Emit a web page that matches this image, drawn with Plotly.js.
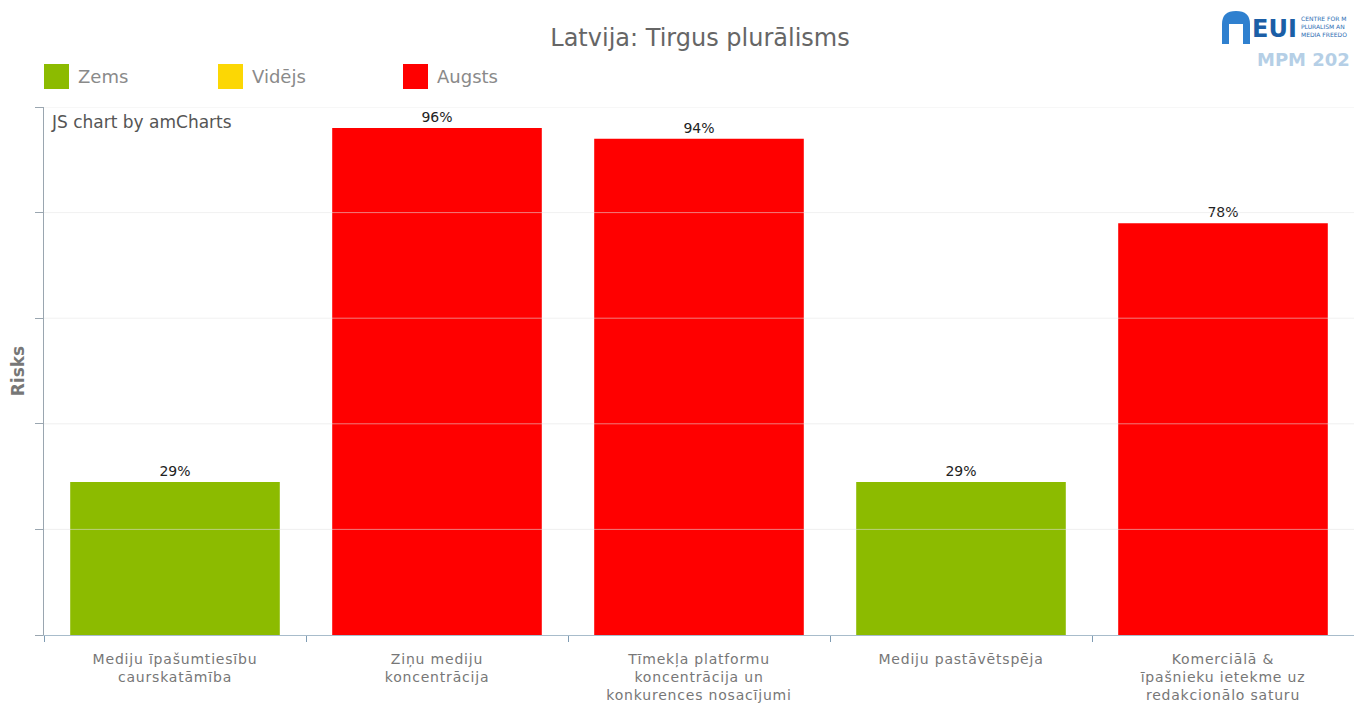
<!DOCTYPE html>
<html>
<head>
<meta charset="utf-8">
<script src="https://cdn.plot.ly/plotly-3.0.1.min.js"></script>
<style>
html,body{margin:0;padding:0;background:#fff;}
#chart{width:1354px;height:704px;}
#chart .xtick text{letter-spacing:0.8px;}
</style>
</head>
<body>
<div id="chart"></div>
<script>
// ---- data ----
const categories = [
  "Mediju īpašumtiesību<br>caurskatāmība",
  "Ziņu mediju<br>koncentrācija",
  "Tīmekļa platformu<br>koncentrācija un<br>konkurences nosacījumi",
  "Mediju pastāvētspēja",
  "Komerciālā &<br>īpašnieku ietekme uz<br>redakcionālo saturu"
];
const values = [29, 96, 94, 29, 78];
const levels = ["Zems", "Augsts", "Augsts", "Zems", "Augsts"];
const legendNames = ["Zems", "Vidējs", "Augsts"];
const legendColors = ["#8cbb00", "#fcd704", "#ff0000"];
const yTicks = [0, 20, 40, 60, 80, 100];

// ---- layout helpers ----
const W = 1354, H = 704;
const M = {l: 44, r: 0, t: 107, b: 69};
const pw = W - M.l - M.r, ph = H - M.t - M.b;
const px = x => (x - M.l) / pw;
const py = y => (H - M.b - y) / ph;
const FONT = "DejaVu Sans, Verdana, sans-serif";

const colorOf = lv => legendColors[legendNames.indexOf(lv)];

const trace = {
  type: "bar",
  x: categories,
  y: values,
  width: 0.8,
  marker: {color: levels.map(colorOf), line: {width: 0}},
  text: values.map(v => v + "%"),
  textposition: "outside",
  textfont: {family: FONT, size: 14, color: "#222"},
  cliponaxis: false,
  hoverinfo: "x+y",
  showlegend: false
};

const shapes = [];
const annotations = [];

// grid lines drawn above bars (light)
yTicks.slice(1).forEach(v => {
  shapes.push({type: "line", xref: "paper", yref: "y", x0: 0, x1: 1, y0: v, y1: v,
    line: {color: "rgba(228,228,228,0.55)", width: 1}, layer: "above"});
});

// custom legend
const legX = [44, 218, 403];
legendNames.forEach((name, i) => {
  shapes.push({type: "rect", xref: "paper", yref: "paper",
    x0: px(legX[i]), x1: px(legX[i] + 25), y0: py(89), y1: py(64),
    fillcolor: legendColors[i], line: {width: 0}});
  annotations.push({xref: "paper", yref: "paper", x: px(legX[i] + 32), y: py(77),
    xanchor: "left", yanchor: "middle", showarrow: false, text: name,
    font: {family: FONT, size: 18, color: "#8a8a8a"}});
});

// credit text
annotations.push({xref: "paper", yref: "paper", x: px(49), y: py(122), xanchor: "left", yanchor: "middle",
  showarrow: false, text: "JS chart by amCharts",
  font: {family: FONT, size: 17, color: "#555"}});

// logo
shapes.push({type: "path", xref: "paper", yref: "paper",
  path: `M ${px(1222)} ${py(44)} L ${px(1222)} ${py(24)} Q ${px(1222)} ${py(11)} ${px(1236)} ${py(11)} Q ${px(1250)} ${py(11)} ${px(1250)} ${py(24)} L ${px(1250)} ${py(44)} L ${px(1243)} ${py(44)} L ${px(1243)} ${py(24)} L ${px(1229)} ${py(24)} L ${px(1229)} ${py(44)} Z`,
  fillcolor: "#2f80cf", line: {width: 0}});
annotations.push({xref: "paper", yref: "paper", x: px(1250), y: py(29), xanchor: "left", yanchor: "middle",
  showarrow: false, text: "<b>EUI</b>",
  font: {family: FONT, size: 24, color: "#1b5ea6"}});
annotations.push({xref: "paper", yref: "paper", x: px(1299), y: py(27), xanchor: "left", yanchor: "middle",
  showarrow: false, align: "left", text: "CENTRE FOR M<br>PLURALISM AN<br>MEDIA FREEDO",
  font: {family: FONT, size: 6, color: "#2d6db3"}});
annotations.push({xref: "paper", yref: "paper", x: px(1255), y: py(60), xanchor: "left", yanchor: "middle",
  showarrow: false, text: "<b>MPM 202</b>",
  font: {family: FONT, size: 18, color: "#b5cfe6"}});

const layout = {
  width: W, height: H,
  margin: M,
  paper_bgcolor: "#fff", plot_bgcolor: "#fff",
  title: {text: "Latvija: Tirgus plurālisms", x: 0.517, xanchor: "center", y: 1 - 38 / H, yanchor: "middle",
    yref: "container", font: {family: FONT, size: 24, color: "#666"}},
  showlegend: false,
  bargap: 0.2,
  xaxis: {
    type: "category",
    showline: true, linecolor: "#a8bccb", linewidth: 1,
    ticks: "outside", tickson: "boundaries", ticklen: 6, tickcolor: "#7f9cb3",
    ticklabelstandoff: 11,
    tickfont: {family: FONT, size: 14, color: "#777"},
    showgrid: false, zeroline: false, fixedrange: true
  },
  yaxis: {
    range: [0, 100], tickvals: yTicks, showticklabels: false,
    showline: true, linecolor: "#9aa6b0", linewidth: 1,
    ticks: "outside", ticklen: 8, tickcolor: "#9aa6b0",
    showgrid: false, zeroline: false,
    title: {text: "<b>Risks</b>", standoff: 6, font: {family: FONT, size: 17, color: "#777"}},
    fixedrange: true
  },
  shapes: shapes,
  annotations: annotations
};

Plotly.newPlot("chart", [trace], layout, {displayModeBar: false, responsive: false});
</script>
</body>
</html>
